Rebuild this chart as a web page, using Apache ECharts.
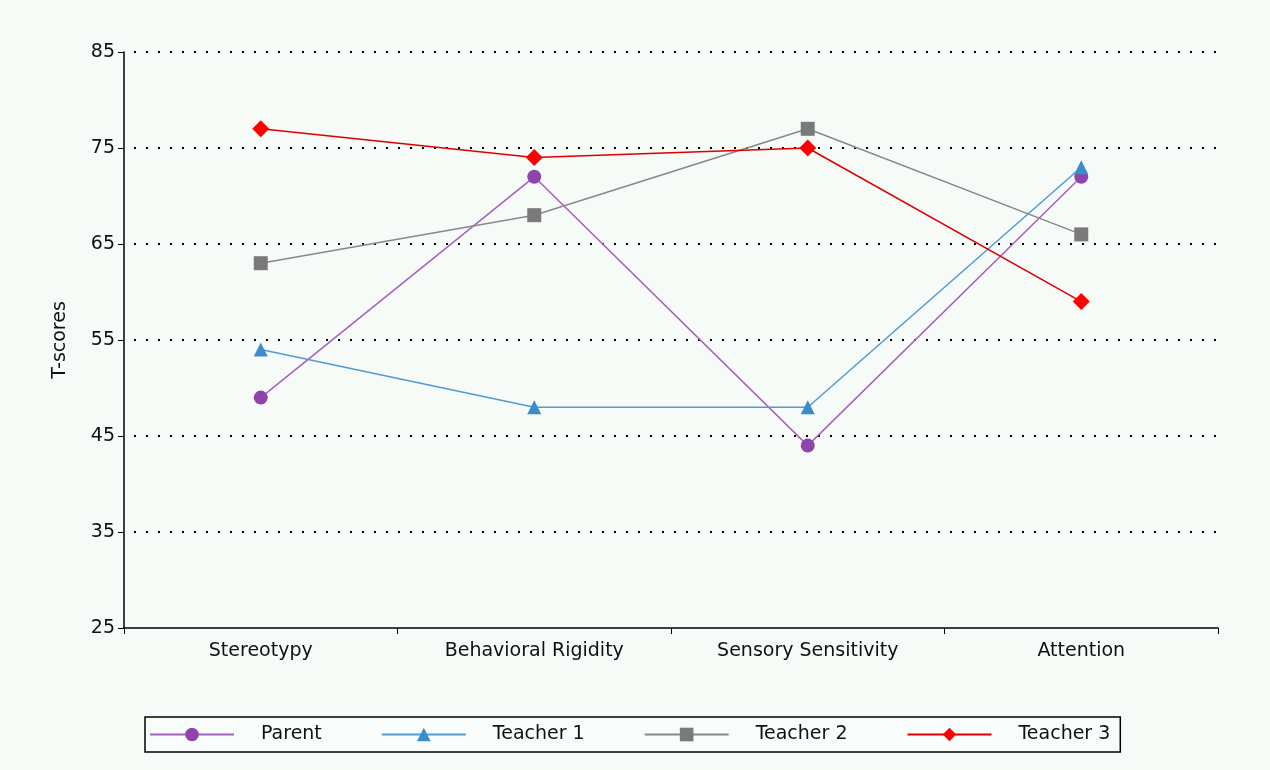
<!DOCTYPE html>
<html><head><meta charset="utf-8">
<script src="https://cdn.jsdelivr.net/npm/echarts@6/dist/echarts.min.js"></script>
<style>html,body{margin:0;padding:0;background:#f6fbf8;}#c{width:1270px;height:770px;}</style>
</head><body><div id="c"></div>
<script>
const categories = ['Stereotypy', 'Behavioral Rigidity', 'Sensory Sensitivity', 'Attention'];
const parent = [49, 72, 44, 72];
const teacher1 = [54, 48, 48, 73];
const teacher2 = [63, 68, 77, 66];
const teacher3 = [77, 74, 75, 59];
const yTicks = [25, 35, 45, 55, 65, 75, 85];

const FONT = 'DejaVu Sans';
const chart = echarts.init(document.getElementById('c'));
function ser(name, data, color, lineColor, symbol, size) {
  return {
    name, type: 'line', data, symbol, symbolSize: size,
    itemStyle: { color: color },
    lineStyle: { color: lineColor, width: 1.5 },
    emphasis: { disabled: true },
    animation: false
  };
}
chart.setOption({
  backgroundColor: '#f6fbf8',
  animation: false,
  textStyle: { fontFamily: FONT },
  grid: { left: 124, right: 52, top: 52, bottom: 142 },
  xAxis: {
    type: 'category', data: categories, boundaryGap: true,
    axisLine: { lineStyle: { color: '#000', width: 1.5 } },
    axisTick: { show: true, length: 6, lineStyle: { color: '#000' } },
    axisLabel: { color: '#111', fontSize: 19, fontFamily: FONT, margin: 14 },
    splitLine: { show: false }
  },
  yAxis: {
    type: 'value', min: yTicks[0], max: yTicks[yTicks.length - 1], interval: 10,
    name: 'T-scores', nameLocation: 'middle', nameGap: 54,
    nameTextStyle: { color: '#111', fontSize: 19, fontFamily: FONT },
    axisLine: { show: true, lineStyle: { color: '#000', width: 1.5 } },
    axisTick: { show: true, length: 6, lineStyle: { color: '#000' } },
    axisLabel: { color: '#111', fontSize: 19, fontFamily: FONT, margin: 9 },
    splitLine: { show: true, showMinLine: false, lineStyle: { color: '#000', width: 2, type: [2, 10], dashOffset: -10 } }
  },
  legend: {
    left: 145, top: 717,
    orient: 'horizontal',
    itemWidth: 84, itemHeight: 17, itemGap: 59,
    padding: [8, 10, 8, 4],
    borderColor: '#000', borderWidth: 1.5,
    backgroundColor: '#f8fcfa',
    textStyle: { color: '#111', fontSize: 19, fontFamily: FONT, padding: [0, 0, 0, 22] },
    data: ['Parent', 'Teacher 1', 'Teacher 2', 'Teacher 3']
  },
  series: [
    ser('Parent', parent, '#8e44ad', '#a461c2', 'circle', 14),
    ser('Teacher 1', teacher1, '#3a8ccc', '#4f9bd3', 'triangle', 14),
    ser('Teacher 2', teacher2, '#7a7a7a', '#888888', 'rect', 14),
    ser('Teacher 3', teacher3, '#ff0000', '#dd0000', 'diamond', 17)
  ]
});
</script></body></html>
